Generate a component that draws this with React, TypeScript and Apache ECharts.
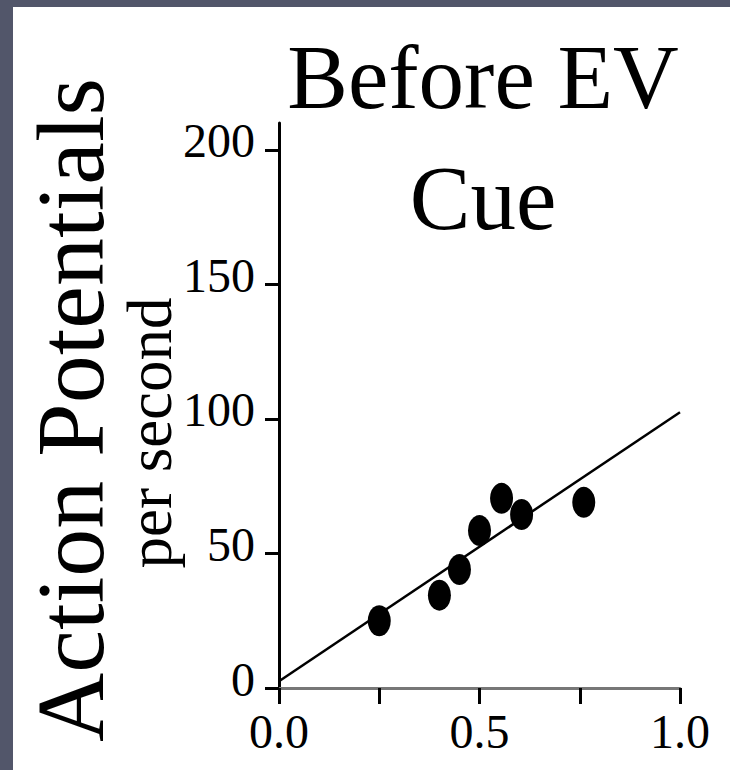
import React, { useEffect, useRef } from 'react';
import * as echarts from 'echarts';

const titleLines = ['Before EV', 'Cue'];
const yAxisTitle = 'Action Potentials';
const yAxisSubtitle = 'per second';
const xTickValues = [0, 0.25, 0.5, 0.75, 1.0];
const xLabelValues = [0, 0.5, 1.0];
const yTickValues = [0, 50, 100, 150, 200];
const pointsX = [0.25, 0.40, 0.45, 0.50, 0.555, 0.605, 0.76];
const pointsY = [25, 34.5, 44, 58.5, 70.5, 64.5, 69];
const fitX = [0, 1.0];
const fitY = [2.5, 102.5];

const SERIF = '"Liberation Serif", "Times New Roman", "DejaVu Serif", serif';

export default function App() {
  const ref = useRef<HTMLDivElement>(null);
  useEffect(() => {
    document.body.style.margin = '0';
    if (!ref.current) return;
    const chart = echarts.init(ref.current, null, { renderer: 'svg' });
    chart.setOption({
      animation: false,
      backgroundColor: '#52566a',
      grid: { left: 279, right: 50, top: 123, bottom: 82, outerBoundsMode: 'none' },
      xAxis: {
        type: 'value',
        min: 0,
        max: 1,
        axisLine: { show: true, lineStyle: { color: '#777', width: 3 } },
        axisTick: { show: true, customValues: xTickValues, length: 16, lineStyle: { color: '#000', width: 3 } },
        axisLabel: {
          customValues: xLabelValues,
          formatter: (v: number) => v.toFixed(1),
          fontSize: 48,
          fontFamily: SERIF,
          color: '#000',
          margin: 19,
        },
        splitLine: { show: false },
      },
      yAxis: {
        type: 'value',
        min: 0,
        max: 210,
        axisLine: { show: true, lineStyle: { color: '#000', width: 3 } },
        axisTick: { show: true, customValues: yTickValues, length: 14, lineStyle: { color: '#000', width: 3 } },
        axisLabel: {
          customValues: yTickValues,
          fontSize: 48,
          fontFamily: SERIF,
          color: '#000',
          margin: 24,
          lineHeight: 18,
          verticalAlign: 'bottom',
        },
        splitLine: { show: false },
      },
      graphic: [
        { type: 'rect', z: -100, shape: { x: 13, y: 7, width: 717, height: 763 }, style: { fill: '#ffffff' } },
        {
          type: 'text', x: 483, y: 77,
          style: { text: titleLines[0], fontSize: 91, fontFamily: SERIF, fill: '#000', align: 'center', verticalAlign: 'middle' },
        },
        {
          type: 'text', x: 483, y: 198,
          style: { text: titleLines[1], fontSize: 91, fontFamily: SERIF, fill: '#000', align: 'center', verticalAlign: 'middle' },
        },
        {
          type: 'text', x: 70, y: 410, rotation: Math.PI / 2,
          style: { text: yAxisTitle, fontSize: 96, fontFamily: SERIF, fill: '#000', align: 'center', verticalAlign: 'middle' },
        },
        {
          type: 'text', x: 150, y: 433, rotation: Math.PI / 2,
          style: { text: yAxisSubtitle, fontSize: 63, fontFamily: SERIF, fill: '#000', align: 'center', verticalAlign: 'middle' },
        },
      ],
      series: [
        {
          type: 'line',
          data: fitX.map((x, i) => [x, fitY[i]]),
          showSymbol: false,
          lineStyle: { color: '#000', width: 2.5 },
          z: 2,
        },
        {
          type: 'scatter',
          data: pointsX.map((x, i) => [x, pointsY[i]]),
          symbol: 'circle',
          symbolSize: [23, 31],
          itemStyle: { color: '#000', opacity: 1 },
          z: 3,
        },
      ],
    });
    return () => chart.dispose();
  }, []);
  return <div ref={ref} style={{ width: 730, height: 770 }} />;
}
